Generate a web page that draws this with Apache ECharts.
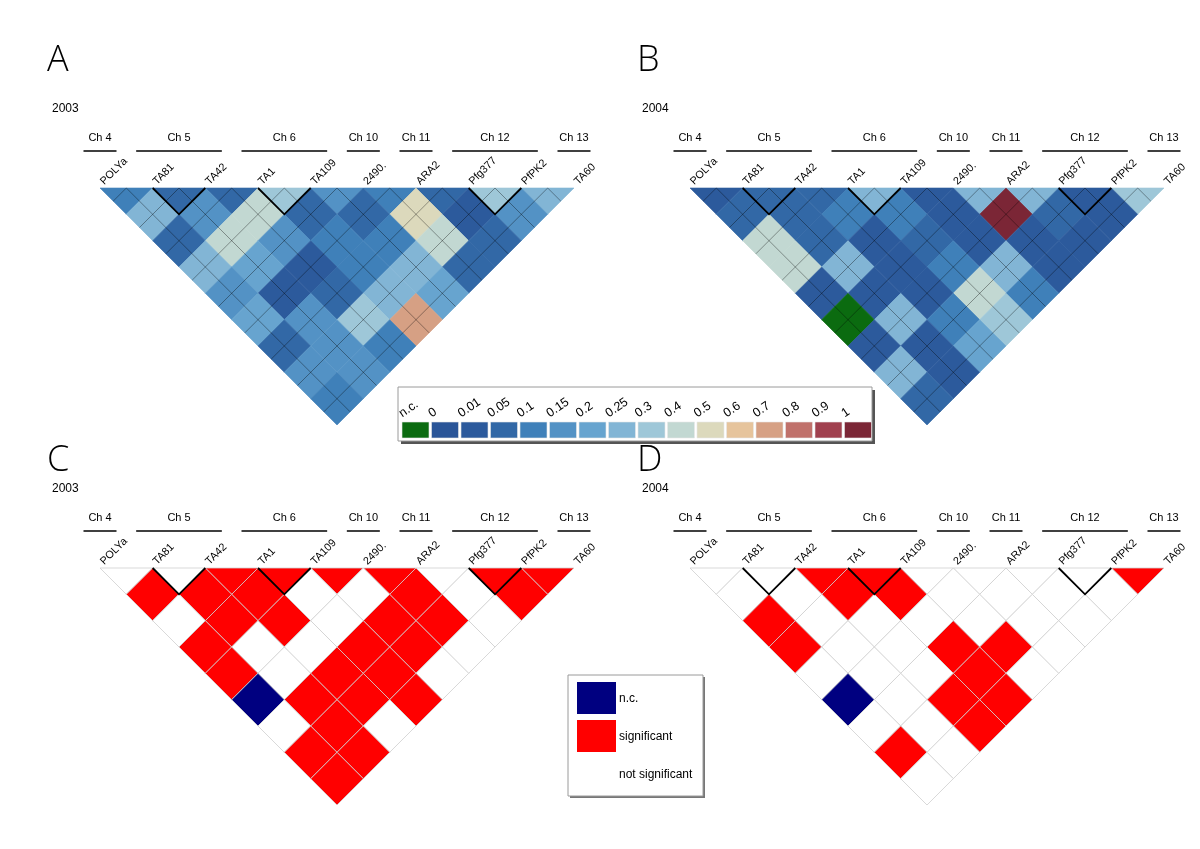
<!DOCTYPE html>
<html><head><meta charset="utf-8">
<script src="https://cdn.jsdelivr.net/npm/echarts@6/dist/echarts.min.js"></script>
<style>html,body{margin:0;padding:0;background:#fff}#c{width:1200px;height:849px}</style>
</head><body><div id="c"></div><script>
// ---------- data ----------
const markers = ['POLYa','TA81','TA42','TA1','TA109','2490.','ARA2','Pfg377','PfPK2','TA60'];
const chromosomes = ['Ch 4','Ch 5','Ch 6','Ch 10','Ch 11','Ch 12','Ch 13'];
const chromFirst = [0,1,3,5,6,7,9];
const chromLast  = [0,2,4,5,6,8,9];
const sameChrPairs = [1,3,7];           // left marker index of adjacent same-chromosome pairs
const ldLevels = ['n.c.','0','0.01','0.05','0.1','0.15','0.2','0.25','0.3','0.4','0.5','0.6','0.7','0.8','0.9','1'];
const ldColors = ['#0b6b10','#2a5598','#2c5a9c','#3268a6','#3f80b9','#5392c5','#67a4cf','#82b5d5','#9ec7d8',
                  '#c2d8d2','#dcd9bc','#e6c49c','#d6a084','#c0716b','#a0404e','#7b2636'];
// LD values, row k holds pairs (i, i+k+1); -1 = n.c.
const ld2003 = [
  [0.1,0.05,0.05,0.3,0.15,0.1,0.05,0.3,0.25],
  [0.25,0.15,0.4,0.05,0.05,0.5,0.01,0.15],
  [0.05,0.4,0.15,0.1,0.1,0.4,0.05],
  [0.25,0.2,0.01,0.1,0.25,0.05],
  [0.15,0.01,0.05,0.25,0.2],
  [0.2,0.15,0.3,0.7],
  [0.05,0.15,0.1],
  [0.15,0.15],
  [0.1]
];
const ld2004 = [
  [0.01,0.05,0.05,0.25,0.01,0.25,0.25,0.01,0.3],
  [0.05,0.05,0.1,0.1,0.01,1,0.05,0.01],
  [0.4,0.05,0.01,0.05,0.01,0.01,0.01],
  [0.4,0.25,0.01,0.1,0.25,0.01],
  [0.01,0.01,0.01,0.4,0.1],
  [-1,0.25,0.1,0.3],
  [0.01,0.01,0.2],
  [0.25,0.01],
  [0.05]
];
// significance: 0 = not significant, 1 = significant, 2 = n.c.
const sigLevels = ['not significant','significant','n.c.'];
const sigColors = ['#ffffff','#ff0000','#000080'];
const sig2003 = [
  [0,0,1,1,1,1,0,1,1],
  [1,1,1,0,0,1,0,1],
  [0,1,1,0,1,1,0],
  [1,0,0,1,1,0],
  [1,0,1,1,0],
  [2,1,1,1],
  [0,1,0],
  [1,1],
  [1]
];
const sig2004 = [
  [0,0,1,1,0,0,0,0,1],
  [0,0,1,1,0,0,0,0],
  [1,0,0,0,0,0,0],
  [1,0,0,1,1,0],
  [0,0,0,1,0],
  [2,0,1,1],
  [0,0,1],
  [1,0],
  [0]
];

// ---------- layout ----------
const FONT = '"Liberation Sans", Arial, sans-serif';
const N = markers.length;
const panels = [
  {letter:'A', year:'2003', kind:'ld',  rows:ld2003,  left:100, top:188},
  {letter:'B', year:'2004', kind:'ld',  rows:ld2004,  left:690, top:188},
  {letter:'C', year:'2003', kind:'sig', rows:sig2003, left:100, top:568},
  {letter:'D', year:'2004', kind:'sig', rows:sig2004, left:690, top:568}
];
const W = 474, H = 237;
const ldThr = ldLevels.map(s => s === 'n.c.' ? null : parseFloat(s));
function ldIndex(v){
  if (v < 0) return 0;
  let idx = 1;
  for (let t = 1; t < ldThr.length; t++) if (v >= ldThr[t] - 1e-9) idx = t;
  return idx;
}
function cellPoints(api, i, j){
  const cx = (i + j) / 2, cy = (j - i - 1) / 2;
  if (j === i + 1) return [api.coord([i,0]), api.coord([i+1,0]), api.coord([cx,0.5])];
  return [api.coord([cx,cy-0.5]), api.coord([cx+0.5,cy]), api.coord([cx,cy+0.5]), api.coord([cx-0.5,cy])];
}

const grid = [], xAxis = [], yAxis = [], series = [];
panels.forEach((p, g) => {
  grid.push({left:p.left, top:p.top, width:W, height:H});
  xAxis.push({gridIndex:g, type:'value', min:0, max:N-1, show:false});
  yAxis.push({gridIndex:g, type:'value', min:0, max:(N-1)/2, inverse:true, show:false});
  const items = [];
  p.rows.forEach((row, k) => row.forEach((v, i) => items.push([i, i+k+1, v])));
  series.push({
    type:'custom', xAxisIndex:g, yAxisIndex:g, silent:true, z:1, data:items,
    renderItem:(params, api) => {
      const i = api.value(0), j = api.value(1), v = api.value(2);
      let fill, stroke, lw;
      if (p.kind === 'ld') { fill = ldColors[ldIndex(v)]; stroke = fill; lw = 0.6; }
      else { fill = sigColors[v]; stroke = '#cfcfcf'; lw = 0.8; }
      return {type:'polygon', shape:{points:cellPoints(api, i, j)}, style:{fill:fill, stroke:stroke, lineWidth:lw}};
    }
  });
  if (p.kind === 'ld') {
    // thin guide lines through cell centres
    series.push({
      type:'custom', xAxisIndex:g, yAxisIndex:g, silent:true, z:2,
      data: markers.slice(0, N-1).map((m, i) => [i]),
      renderItem:(params, api) => {
        const m = api.value(0) + 0.5;
        const t1 = (N - 1 - m) / 2, t2 = m / 2;
        const st = {stroke:'rgba(0,0,0,0.6)', lineWidth:0.6};
        return {type:'group', children:[
          {type:'polyline', shape:{points:[api.coord([m,0]), api.coord([m+t1,t1])]}, style:st},
          {type:'polyline', shape:{points:[api.coord([m,0]), api.coord([m-t2,t2])]}, style:st}
        ]};
      }
    });
  }
  // V marks for adjacent same-chromosome pairs
  series.push({
    type:'custom', xAxisIndex:g, yAxisIndex:g, silent:true, z:3,
    data: sameChrPairs.map(i => [i]),
    renderItem:(params, api) => {
      const i = api.value(0);
      return {type:'polyline', shape:{points:[api.coord([i,0]), api.coord([i+0.5,0.5]), api.coord([i+1,0])]},
              style:{stroke:'#000', lineWidth:1.8, fill:null}};
    }
  });
  // marker names
  series.push({
    type:'custom', xAxisIndex:g, yAxisIndex:g, silent:true, z:3,
    data: markers.map((m, i) => [i]),
    renderItem:(params, api) => {
      const i = api.value(0);
      const pt = api.coord([i, 0]);
      return {type:'text', x:pt[0]+6, y:pt[1]-1, rotation:Math.PI/4,
              style:{text:markers[i], fill:'#000', fontSize:10.8, fontFamily:FONT, align:'left', verticalAlign:'bottom'}};
    }
  });
  // chromosome headers
  series.push({
    type:'custom', xAxisIndex:g, yAxisIndex:g, silent:true, z:3,
    data: chromosomes.map((c, k) => [k]),
    renderItem:(params, api) => {
      const k = api.value(0);
      const a = api.coord([chromFirst[k], 0]), b = api.coord([chromLast[k], 0]);
      const y = a[1] - 37;
      return {type:'group', children:[
        {type:'line', shape:{x1:a[0]-16.5, y1:y, x2:b[0]+16.5, y2:y}, style:{stroke:'#000', lineWidth:1.6}},
        {type:'text', x:(a[0]+b[0])/2, y:y-13, style:{text:chromosomes[k], fill:'#000', fontSize:11, fontFamily:FONT, align:'center', verticalAlign:'middle'}}
      ]};
    }
  });
});

// ---------- titles & legends (graphic) ----------
const graphic = [];
panels.forEach(p => {
  const lx = p.left - 53, ly = p.top === 188 ? 61 : 461;
  graphic.push({type:'text', left:lx, top:ly-18, style:{text:p.letter, fill:'#000', fontSize:36, fontFamily:'"Open Sans", sans-serif', fontWeight:300}});
  graphic.push({type:'text', left:p.left-48, top:(p.top === 188 ? 110 : 490)-7, style:{text:p.year, fill:'#000', fontSize:12, fontFamily:FONT}});
});
// LD colour legend
const L1x = 398, L1y = 387, L1w = 474, L1h = 54;
graphic.push({type:'rect', shape:{x:L1x+3, y:L1y+3, width:L1w, height:L1h}, style:{fill:'#555'}, z:10});
graphic.push({type:'rect', shape:{x:L1x, y:L1y, width:L1w, height:L1h}, style:{fill:'#fff', stroke:'#9a9a9a', lineWidth:1}, z:11});
ldLevels.forEach((lab, k) => {
  const x = L1x + 4 + k * 29.5;
  graphic.push({type:'rect', shape:{x:x, y:L1y+35, width:27, height:16}, style:{fill:ldColors[k], stroke:'#e8e8e8', lineWidth:0.6}, z:12});
  graphic.push({type:'text', x:x+2, y:L1y+33, rotation:0.6, z:12,
    style:{text:lab, fill:'#000', fontSize:12.5, fontFamily:FONT, align:'left', verticalAlign:'bottom'}});
});
// significance legend
const L2x = 568, L2y = 675, L2w = 135, L2h = 121;
graphic.push({type:'rect', shape:{x:L2x+2, y:L2y+2, width:L2w, height:L2h}, style:{fill:'#777'}, z:10});
graphic.push({type:'rect', shape:{x:L2x, y:L2y, width:L2w, height:L2h}, style:{fill:'#fff', stroke:'#9a9a9a', lineWidth:1}, z:11});
[2,1,0].forEach((lv, r) => {
  const y = L2y + 7 + r * 38;
  if (lv !== 0) graphic.push({type:'rect', shape:{x:L2x+9, y:y, width:39, height:32}, style:{fill:sigColors[lv]}, z:12});
  graphic.push({type:'text', x:L2x+51, y:y+17, z:12,
    style:{text:sigLevels[lv], fill:'#000', fontSize:12, fontFamily:FONT, align:'left', verticalAlign:'middle'}});
});

const chart = echarts.init(document.getElementById('c'));
chart.setOption({animation:false, backgroundColor:'#fff', grid, xAxis, yAxis, series, graphic});
</script></body></html>
